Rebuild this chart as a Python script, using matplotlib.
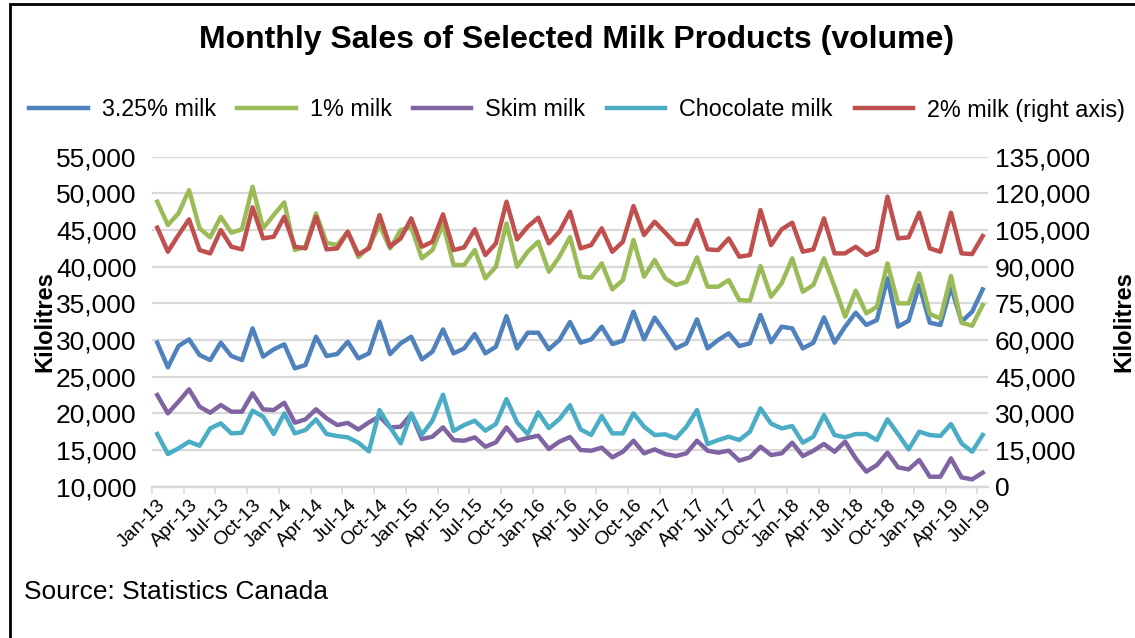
import numpy as np
import pandas as pd
import matplotlib.pyplot as plt
from matplotlib.patches import Rectangle
from matplotlib.ticker import FuncFormatter, MultipleLocator, FixedLocator

plt.rcParams['font.family'] = ['Liberation Sans', 'DejaVu Sans']

months = pd.date_range('2013-01-01', periods=79, freq='MS').strftime('%b-%y').tolist()

milk_325 = [29640, 26270, 29180, 30090, 27950, 27270, 29640, 27820, 27270, 31590,
            27730, 28730, 29410, 26140, 26590, 30450, 27820, 28090, 29770, 27500,
            28180, 32500, 28090, 29550, 30450, 27360, 28410, 31450, 28180, 28860,
            30820, 28180, 29090, 33270, 28860, 31000, 31000, 28730, 30000, 32450,
            29640, 30090, 31820, 29450, 29910, 33860, 30090, 33050, 31000, 28860,
            29550, 32820, 28860, 30000, 30910, 29180, 29550, 33410, 29700, 31820,
            31590, 28860, 29640, 33090, 29640, 31820, 33730, 32050, 32730, 38420,
            31820, 32640, 37500, 32360, 32050, 37270, 32500, 33860, 36910]

milk_1 = [48860, 45680, 47270, 50450, 45230, 44000, 46800, 44640, 45090, 50900,
          45230, 47050, 48770, 42270, 42730, 47270, 43270, 42950, 44770, 41300,
          42700, 45680, 42500, 45000, 45400, 41140, 42270, 45800, 40230, 40230,
          42270, 38410, 40000, 45900, 40000, 42050, 43410, 39320, 41360, 44050,
          38640, 38500, 40450, 36910, 38180, 43640, 38640, 40910, 38410, 37500,
          37950, 41270, 37270, 37270, 38180, 35450, 35360, 40090, 35910, 37730,
          41140, 36590, 37500, 41140, 37270, 33180, 36730, 33640, 34550, 40450,
          35000, 35000, 39090, 33550, 32950, 38730, 32360, 31950, 34770]

skim = [22500, 20000, 21590, 23270, 20910, 20090, 21140, 20230, 20230, 22730,
        20550, 20450, 21450, 18730, 19180, 20550, 19320, 18410, 18700, 17800,
        18770, 19600, 18090, 18180, 19910, 16500, 16820, 18090, 16360, 16270,
        16730, 15450, 16050, 18090, 16270, 16640, 16950, 15140, 16140, 16780,
        15000, 14910, 15320, 14000, 14770, 16270, 14550, 15090, 14450, 14180,
        14550, 16270, 14910, 14640, 14910, 13550, 14000, 15450, 14320, 14550,
        16000, 14180, 14910, 15820, 14770, 16140, 13860, 12050, 12950, 14640,
        12640, 12360, 13640, 11360, 11360, 13860, 11270, 11000, 11910]

chocolate = [17180, 14450, 15230, 16140, 15590, 17950, 18640, 17270, 17360, 20360,
             19550, 17180, 20000, 17270, 17730, 19180, 17180, 16910, 16730, 16000,
             14820, 20450, 18090, 15910, 20000, 17090, 19000, 22550, 17600, 18410,
             19000, 17640, 18550, 21950, 18770, 17180, 20140, 18000, 19230, 21100,
             17820, 17050, 19640, 17270, 17270, 20000, 18180, 17050, 17140, 16590,
             18180, 20450, 15820, 16360, 16820, 16360, 17500, 20680, 18600, 17950,
             18270, 16000, 16820, 19770, 17050, 16730, 17180, 17180, 16360, 19180,
             17180, 15090, 17500, 17050, 16910, 18550, 15910, 14770, 17050]

milk_2 = [105950, 96130, 102950, 109360, 96800, 95440, 105000, 98170, 97080, 114270,
          101580, 102270, 110450, 98170, 97490, 110450, 97080, 97490, 104310, 95000,
          97490, 111130, 98170, 101580, 109770, 98170, 100220, 111400, 96800, 97900,
          105270, 94760, 99540, 116590, 101170, 106360, 110040, 99540, 104310, 112500,
          97490, 98850, 105680, 96130, 100220, 114810, 102950, 108400, 103900, 99270,
          99270, 109090, 97080, 96800, 101580, 94090, 94760, 113180, 98850, 105300,
          108000, 96130, 97080, 109770, 95440, 95440, 98170, 94760, 96800, 118640,
          101580, 102000, 112090, 97490, 96130, 112090, 95440, 95170, 102540]

colors = {'3.25% milk': '#4F81BD', '1% milk': '#9BBB59', 'Skim milk': '#8064A2',
          'Chocolate milk': '#4BACC6', '2% milk (right axis)': '#C0504D'}

fig = plt.figure(figsize=(11.35, 6.38), dpi=100)
ax = fig.add_axes([152 / 1135, 1 - 486.7 / 638, 836 / 1135, 330 / 638])
ax2 = ax.twinx()

x = np.arange(len(months))
lw = 3.2
h1, = ax.plot(x, milk_325, color=colors['3.25% milk'], lw=lw, solid_joinstyle='round')
h2, = ax.plot(x, milk_1, color=colors['1% milk'], lw=lw, solid_joinstyle='round')
h3, = ax.plot(x, skim, color=colors['Skim milk'], lw=lw, solid_joinstyle='round')
h4, = ax.plot(x, chocolate, color=colors['Chocolate milk'], lw=lw, solid_joinstyle='round')
h5, = ax2.plot(x, milk_2, color=colors['2% milk (right axis)'], lw=lw, solid_joinstyle='round')

grid_c = '#D9D9D9'
ax.set_xlim(-0.5, len(months) - 0.5)
ax.set_ylim(10000, 55000)
ax2.set_ylim(0, 135000)
ax.yaxis.set_major_locator(MultipleLocator(5000))
ax2.yaxis.set_major_locator(MultipleLocator(15000))
fmt = FuncFormatter(lambda v, p: f'{v:,.0f}')
ax.yaxis.set_major_formatter(fmt)
ax2.yaxis.set_major_formatter(fmt)
ax.grid(axis='y', color=grid_c, lw=1.6)
ax.set_axisbelow(True)

for a in (ax, ax2):
    for s in ('top', 'left', 'right'):
        a.spines[s].set_visible(False)
    a.spines['bottom'].set_color(grid_c)
    a.spines['bottom'].set_linewidth(1.6)

ax.tick_params(axis='y', length=0, pad=11, labelsize=19)
ax2.tick_params(axis='y', length=0, pad=5, labelsize=19)

# labels every third month, tick marks on the category boundaries
ax.xaxis.set_major_locator(FixedLocator(x[::3]))
ax.set_xticklabels(months[::3], rotation=45, ha='right', va='top',
                   rotation_mode='anchor', fontsize=14)
ax.tick_params(axis='x', which='major', length=0, pad=7)
ax.xaxis.set_minor_locator(FixedLocator(np.arange(-0.5, len(months), 3)))
ax.tick_params(axis='x', which='minor', length=5, width=1.2, color=grid_c)

ax.set_ylabel('Kilolitres', fontsize=17, fontweight='bold', ha='center', va='center')
ax.yaxis.set_label_coords(-0.128, 0.5)
ax2.set_ylabel('Kilolitres', fontsize=17, fontweight='bold', rotation=90,
               ha='center', va='center')
ax2.yaxis.set_label_coords(1.163, 0.5)

fig.text(0.508, 1 - 40 / 638, 'Monthly Sales of Selected Milk Products (volume)',
         ha='center', va='center', fontsize=23, fontweight='bold')

fig.legend([h1, h2, h3, h4, h5], list(colors.keys()), loc='center',
           bbox_to_anchor=(0.5084, 1 - 110 / 638), ncol=5, frameon=False,
           fontsize=16.8, handlelength=2.5, handletextpad=0.6, columnspacing=0.93)

fig.text(24 / 1135, 1 - 592 / 638, 'Source: Statistics Canada', ha='left', va='center',
         fontsize=19)

fig.patches.append(Rectangle((10 / 1135, -0.05), 1.2, 1 - 4 / 638 + 0.05,
                             transform=fig.transFigure, fill=False, ec='black', lw=2))

fig.savefig('out.png', dpi=100)
